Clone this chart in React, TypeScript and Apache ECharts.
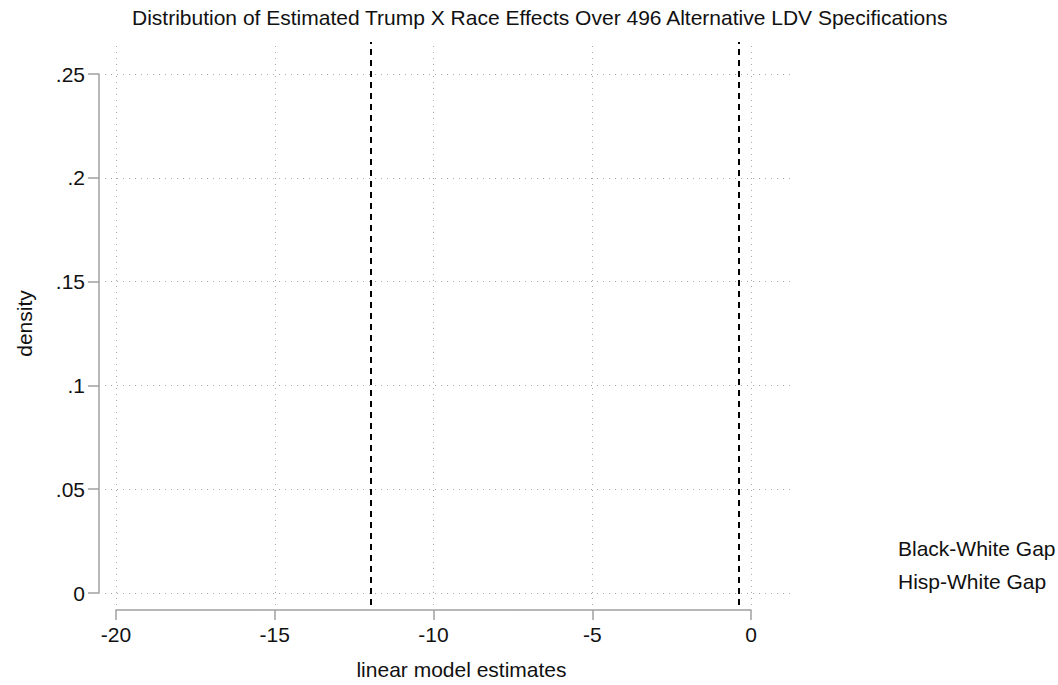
import React, { useEffect, useRef } from "react";
import * as echarts from "echarts";

// Data
const titleText =
  "Distribution of Estimated Trump X Race Effects Over 496 Alternative LDV Specifications";
const xTicks = [-20, -15, -10, -5, 0];
const yTicks = [0, 0.05, 0.1, 0.15, 0.2, 0.25];
const seriesNames = ["Black-White Gap", "Hisp-White Gap"];
// density curves (empty in the reference picture)
const blackWhiteDensity: [number, number][] = [];
const hispWhiteDensity: [number, number][] = [];
// mean estimates shown as dashed reference lines
const meanLines = [-11.97, -0.38];

const FONT = "'Liberation Sans', Arial, sans-serif";

export default function App() {
  const ref = useRef<HTMLDivElement>(null);
  useEffect(() => {
    if (!ref.current) return;
    document.body.style.margin = "0";
    const chart = echarts.init(ref.current, undefined, { renderer: "svg" });
    const axisColor = "#a0a0a0";
    const fmtY = (v: number) => (v === 0 ? "0" : String(v).replace(/^0/, ""));
    chart.setOption({
      animation: false,
      backgroundColor: "#fff",
      textStyle: { fontFamily: FONT },
      title: {
        text: titleText,
        left: 132,
        top: 7,
        padding: 0,
        textStyle: { fontFamily: FONT, fontSize: 21, fontWeight: "normal", color: "#111" },
      },
      legend: {
        data: seriesNames,
        orient: "vertical",
        left: 892,
        top: 538,
        padding: 0,
        itemGap: 12,
        itemWidth: 0,
        itemHeight: 0,
        itemStyle: { opacity: 0 },
        lineStyle: { opacity: 0 },
        textStyle: { fontFamily: FONT, fontSize: 21, lineHeight: 20, color: "#111" },
        selectedMode: false,
      },
      grid: [
        { left: 116, top: 74, width: 635, height: 519 },
        { left: 105, top: 42, width: 690, height: 563 },
      ],
      xAxis: [
        {
          gridIndex: 0,
          type: "value",
          position: "bottom",
          min: xTicks[0],
          max: xTicks[xTicks.length - 1],
          interval: 5,
          offset: 17,
          axisLine: { show: true, onZero: false, lineStyle: { color: axisColor, width: 1.5 } },
          axisTick: { show: true, length: 10, lineStyle: { color: axisColor, width: 1.5 } },
          axisLabel: { margin: 14, fontSize: 21, color: "#111", fontFamily: FONT },
          splitLine: { show: false },
          name: "linear model estimates",
          nameLocation: "middle",
          nameGap: 49,
          nameTextStyle: { fontSize: 21, color: "#111", fontFamily: FONT, padding: [0, 0, 0, 56] },
        },
        {
          gridIndex: 1,
          type: "value",
          min: -20.3465,
          max: 1.3858,
          show: false,
          splitLine: { show: false },
        },
      ],
      yAxis: [
        {
          gridIndex: 0,
          type: "value",
          position: "left",
          min: yTicks[0],
          max: yTicks[yTicks.length - 1],
          interval: 0.05,
          offset: 17,
          axisLine: { show: true, onZero: false, lineStyle: { color: axisColor, width: 1.5 } },
          axisTick: { show: true, length: 11, lineStyle: { color: axisColor, width: 1.5 } },
          axisLabel: { margin: 14, fontSize: 21, color: "#111", fontFamily: FONT, formatter: fmtY },
          splitLine: { show: false },
          name: "density",
          nameLocation: "middle",
          nameGap: 64,
          nameRotate: 90,
          nameTextStyle: { fontSize: 21, color: "#111", fontFamily: FONT, padding: [0, 0, 0, 20] },
        },
        {
          gridIndex: 1,
          type: "value",
          min: -0.00578,
          max: 0.26541,
          show: false,
          splitLine: { show: false },
        },
      ],
      series: [
        {
          name: seriesNames[0],
          type: "line",
          xAxisIndex: 0,
          yAxisIndex: 0,
          data: blackWhiteDensity,
          showSymbol: false,
          lineStyle: { color: "#1a476f", width: 2 },
          itemStyle: { color: "#1a476f" },
        },
        {
          name: seriesNames[1],
          type: "line",
          xAxisIndex: 0,
          yAxisIndex: 0,
          data: hispWhiteDensity,
          showSymbol: false,
          lineStyle: { color: "#90353b", width: 2 },
          itemStyle: { color: "#90353b" },
        },
        {
          name: "grid",
          type: "line",
          xAxisIndex: 1,
          yAxisIndex: 1,
          data: [],
          silent: true,
          markLine: {
            silent: true,
            symbol: "none",
            label: { show: false },
            lineStyle: { color: "#aaaaaa", type: [1, 5], width: 1 },
            data: [
              ...xTicks.map((v) => ({ xAxis: v })),
              ...yTicks.map((v) => ({ yAxis: v })),
            ],
          },
        },
        {
          name: "means",
          type: "line",
          xAxisIndex: 1,
          yAxisIndex: 1,
          data: [],
          silent: true,
          z: 5,
          markLine: {
            silent: true,
            symbol: "none",
            label: { show: false },
            lineStyle: { color: "#000", type: [6, 5], width: 2 },
            data: meanLines.map((v) => ({ xAxis: v })),
          },
        },
      ],
    });
    return () => chart.dispose();
  }, []);
  return <div ref={ref} style={{ width: 1058, height: 685 }} />;
}
